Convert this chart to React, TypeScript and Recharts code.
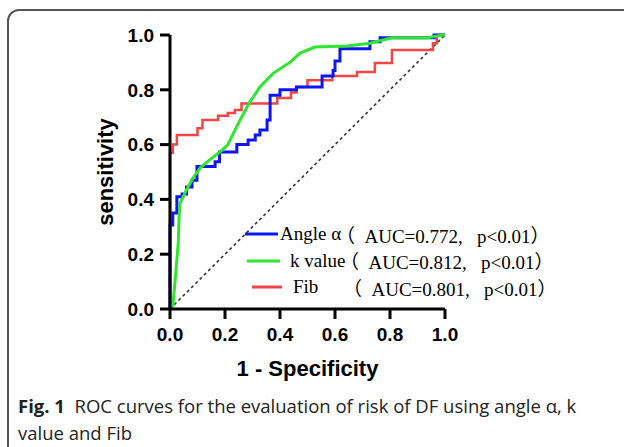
import { LineChart, Line, XAxis, YAxis, ReferenceLine } from "recharts"

const seriesNames = ["Angle α", "k value", "Fib"]
const seriesColors = ["#0b16f2", "#2ee62e", "#f04646"]
const aucValues = ["0.772", "0.812", "0.801"]
const pValue = "p<0.01"
const axisTicks = [0, 0.2, 0.4, 0.6, 0.8, 1.0]

// [1 - specificity, sensitivity]
const angleAlpha = [
  [0, 0], [0, 0.307], [0.01, 0.307], [0.01, 0.35], [0.025, 0.35], [0.025, 0.41],
  [0.044, 0.41], [0.044, 0.42], [0.06, 0.42], [0.06, 0.445], [0.08, 0.445], [0.08, 0.47],
  [0.098, 0.47], [0.098, 0.52], [0.164, 0.52], [0.164, 0.537], [0.18, 0.537], [0.18, 0.573],
  [0.243, 0.573], [0.243, 0.6], [0.284, 0.6], [0.284, 0.617], [0.31, 0.617], [0.31, 0.635],
  [0.327, 0.635], [0.327, 0.653], [0.353, 0.653], [0.353, 0.69], [0.364, 0.69], [0.364, 0.78],
  [0.4, 0.78], [0.4, 0.8], [0.46, 0.8], [0.46, 0.81], [0.553, 0.81], [0.553, 0.85],
  [0.593, 0.85], [0.593, 0.87], [0.6, 0.87], [0.6, 0.905], [0.618, 0.905], [0.618, 0.95],
  [0.727, 0.95], [0.727, 0.975], [0.764, 0.975], [0.764, 0.99], [0.96, 0.99], [0.96, 1], [1, 1],
]

const kValue = [
  [0, 0], [0.01, 0.01], [0.018, 0.095], [0.025, 0.18], [0.03, 0.24], [0.033, 0.335],
  [0.036, 0.385], [0.06, 0.435], [0.085, 0.48], [0.11, 0.515], [0.145, 0.545], [0.19, 0.58],
  [0.21, 0.6], [0.235, 0.65], [0.255, 0.69], [0.29, 0.755], [0.327, 0.81], [0.375, 0.86],
  [0.436, 0.9], [0.473, 0.934], [0.527, 0.956], [0.644, 0.96], [0.727, 0.97], [0.807, 0.99],
  [0.935, 0.99], [0.993, 1], [1, 1],
]

const fib = [
  [0, 0], [0, 0.57], [0.01, 0.57], [0.01, 0.6], [0.025, 0.6], [0.025, 0.635],
  [0.1, 0.635], [0.1, 0.66], [0.118, 0.66], [0.118, 0.69], [0.175, 0.69], [0.175, 0.705],
  [0.21, 0.705], [0.21, 0.715], [0.236, 0.715], [0.236, 0.726], [0.26, 0.726], [0.26, 0.75],
  [0.39, 0.75], [0.39, 0.77], [0.44, 0.77], [0.44, 0.79], [0.46, 0.79], [0.46, 0.81],
  [0.5, 0.81], [0.5, 0.835], [0.59, 0.835], [0.59, 0.85], [0.68, 0.85], [0.68, 0.865],
  [0.745, 0.865], [0.745, 0.898], [0.807, 0.898], [0.807, 0.945], [0.956, 0.945], [0.956, 0.97],
  [0.97, 0.97], [0.97, 1], [1, 1],
]

const toRows = (pts: number[][]) => pts.map(([x, y]) => ({ x, y }))
const seriesData = [toRows(angleAlpha), toRows(kValue), toRows(fib)]

const sans = '"Liberation Sans", Arial, sans-serif'
const serif = '"Liberation Serif", "Noto Sans CJK SC", serif'

// legend row geometry (px inside legend box)
const keyStart = [1, 3, 8]
const keyWidth = [33, 33, 30]
const textGap = [2, 10, 11]
const nameWidth = [63, 57, 57]

function RocLegend() {
  return (
    <div style={{ position: "absolute", left: 244, top: 221, fontFamily: serif, fontSize: 19, color: "#000" }}>
      {seriesNames.map((name, i) => (
        <div key={name} style={{ display: "flex", alignItems: "center", height: 26.5 }}>
          <svg width={keyWidth[i]} height={6} style={{ marginLeft: keyStart[i], flex: "none" }}>
            <line x1={0} x2={keyWidth[i]} y1={3} y2={3} stroke={seriesColors[i]} strokeWidth={3} />
          </svg>
          <span style={{ display: "inline-block", width: nameWidth[i], marginLeft: textGap[i], whiteSpace: "pre" }}>{name}</span>
          <span style={{ whiteSpace: "pre", marginLeft: -7 }}>{`（\u00a0 AUC=${aucValues[i]}, \u00a0 ${pValue}）`}</span>
        </div>
      ))}
    </div>
  )
}

export default function App() {
  const tickStyle = { fill: "#000", fontSize: 19, fontWeight: 700, fontFamily: sans }
  const axisStroke = { stroke: "#000", strokeWidth: 3 }
  return (
    <div style={{ position: "absolute", left: 0, top: 0, width: 624, height: 447, overflow: "hidden", background: "#fff" }}>
      <div style={{ position: "absolute", left: 7, top: 9, width: 640, height: 460, border: "2px solid #555", borderRadius: 12, boxSizing: "border-box" }} />
      <div style={{ position: "absolute", left: 0, top: 0 }}>
        <LineChart width={624} height={447} margin={{ top: 35, right: 179, bottom: 98, left: 0 }}>
          <XAxis
            type="number"
            dataKey="x"
            domain={[0, 1]}
            ticks={axisTicks}
            tickFormatter={(v: number) => v.toFixed(1)}
            height={40}
            tickSize={10}
            tickMargin={9}
            tick={tickStyle}
            axisLine={axisStroke}
            tickLine={axisStroke}
            label={{ value: "1 - Specificity", position: "bottom", offset: 11, fill: "#000", fontSize: 22, fontWeight: 700, fontFamily: sans }}
          />
          <YAxis
            type="number"
            domain={[0, 1]}
            ticks={axisTicks}
            tickFormatter={(v: number) => v.toFixed(1)}
            width={170}
            tickSize={10}
            tickMargin={6}
            tick={tickStyle}
            axisLine={axisStroke}
            tickLine={axisStroke}
            label={({ viewBox }: any) => {
              const cx = 105
              const cy = viewBox.y + viewBox.height / 2
              return (
                <text x={cx} y={cy} transform={`rotate(-90 ${cx} ${cy})`} textAnchor="middle" dominantBaseline="central" fill="#000" fontSize={22} fontWeight={700} fontFamily={sans}>
                  sensitivity
                </text>
              )
            }}
          />
          <ReferenceLine segment={[{ x: 0, y: 0 }, { x: 1, y: 1 }]} stroke="#333" strokeWidth={1.6} strokeDasharray="3 3" />
          <Line data={seriesData[2]} dataKey="y" name={seriesNames[2]} type="linear" stroke={seriesColors[2]} strokeWidth={2.5} dot={false} activeDot={false} isAnimationActive={false} />
          <Line data={seriesData[0]} dataKey="y" name={seriesNames[0]} type="linear" stroke={seriesColors[0]} strokeWidth={3} dot={false} activeDot={false} isAnimationActive={false} />
          <Line data={seriesData[1]} dataKey="y" name={seriesNames[1]} type="linear" stroke={seriesColors[1]} strokeWidth={3} dot={false} activeDot={false} isAnimationActive={false} />
        </LineChart>
      </div>
      <RocLegend />
      <div style={{ position: "absolute", left: 18, top: 392, fontFamily: '"Open Sans", sans-serif', fontSize: 18.5, lineHeight: "27px", color: "#222", whiteSpace: "nowrap" }}>
        <b>Fig. 1</b>&nbsp;&nbsp;ROC curves for the evaluation of risk of DF using angle α, k
        <br />
        value and Fib
      </div>
    </div>
  )
}
